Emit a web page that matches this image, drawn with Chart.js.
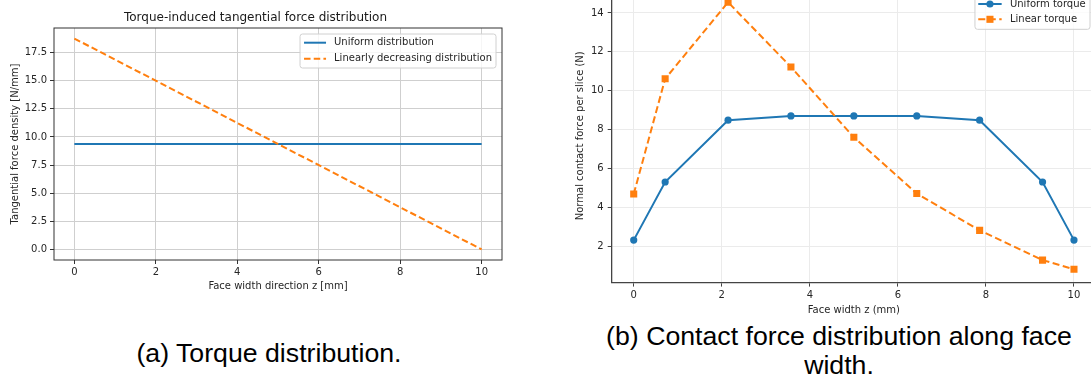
<!DOCTYPE html>
<html><head><meta charset="utf-8">
<script src="https://cdn.jsdelivr.net/npm/chart.js@4.4.1/dist/chart.umd.min.js"></script>
<style>
html,body{margin:0;padding:0;width:1091px;height:378px;overflow:hidden;background:#fff;position:relative;}
#ca{position:absolute;left:0;top:0;}
#cb{position:absolute;left:560px;top:-40px;}
.cap{position:absolute;font-family:"Liberation Sans",Arial,sans-serif;font-size:26.7px;line-height:27px;text-align:center;color:#000;white-space:nowrap;}
</style></head><body>
<canvas id="ca" width="556" height="300"></canvas>
<canvas id="cb" width="545" height="360"></canvas>
<div class="cap" style="left:0;top:340px;width:538px;">(a) Torque distribution.</div>
<div class="cap" style="left:600px;top:322px;width:478px;line-height:28.5px;">(b) Contact force distribution along face<br>width.</div>
<script>
// ---- Chart (a) data ----
const zA = [0, 10];
const uniformA = [9.375, 9.375];
const linearA = [18.75, 0];
const xTicksA = [0, 2, 4, 6, 8, 10];
const yTicksA = [0, 2.5, 5, 7.5, 10, 12.5, 15, 17.5];

// ---- Chart (b) data ----
const zB = [0, 0.714, 2.143, 3.571, 5, 6.429, 7.857, 9.286, 10];
const uniformB = [2.31, 5.30, 8.48, 8.70, 8.70, 8.70, 8.48, 5.30, 2.31];
const linearB = [4.68, 10.61, 14.55, 11.22, 7.60, 4.71, 2.81, 1.28, 0.81];
const xTicksB = [0, 2, 4, 6, 8, 10];
const yTicksB = [2, 4, 6, 8, 10, 12, 14];

const F = '"DejaVu Sans", sans-serif';
const BLUE = '#1f77b4', ORANGE = '#ff7f0e';
const pts = (xs, ys) => xs.map((x, i) => ({x: x, y: ys[i]}));

const boxLegend = {
  id: 'boxLegend',
  afterDraw(chart, args, o) {
    const ctx = chart.ctx, ca = chart.chartArea;
    const ds = chart.data.datasets;
    ctx.save();
    ctx.font = o.size + 'px ' + F;
    const tw = Math.max(...ds.map(d => ctx.measureText(d.label).width));
    const w = o.padL + o.lineLen + o.gap + tw + o.padR;
    const h = o.padT + o.rowH * (ds.length - 1) + o.padB;
    const x0 = ca.right - o.inset - w, y0 = ca.top + o.inset;
    const r = 2.5;
    ctx.beginPath();
    ctx.moveTo(x0 + r, y0);
    ctx.arcTo(x0 + w, y0, x0 + w, y0 + h, r);
    ctx.arcTo(x0 + w, y0 + h, x0, y0 + h, r);
    ctx.arcTo(x0, y0 + h, x0, y0, r);
    ctx.arcTo(x0, y0, x0 + w, y0, r);
    ctx.closePath();
    ctx.fillStyle = 'rgba(255,255,255,0.8)';
    ctx.fill();
    ctx.strokeStyle = '#d0d0d0';
    ctx.lineWidth = 1;
    ctx.stroke();
    ds.forEach((d, i) => {
      const y = y0 + o.padT + i * o.rowH;
      const lx = x0 + o.padL;
      ctx.strokeStyle = d.borderColor;
      ctx.lineWidth = d.borderWidth;
      ctx.setLineDash(d.borderDash || []);
      ctx.beginPath();
      ctx.moveTo(lx, y);
      ctx.lineTo(lx + o.lineLen, y);
      ctx.stroke();
      ctx.setLineDash([]);
      if (d.pointRadius > 0) {
        const cx = lx + o.lineLen / 2;
        ctx.fillStyle = d.borderColor;
        if (d.pointStyle === 'rect') {
          const s = d.pointRadius * Math.SQRT1_2;
          ctx.fillRect(cx - s, y - s, 2 * s, 2 * s);
        } else {
          ctx.beginPath();
          ctx.arc(cx, y, d.pointRadius, 0, Math.PI * 2);
          ctx.fill();
        }
      }
      ctx.fillStyle = '#262626';
      ctx.textBaseline = 'middle';
      ctx.textAlign = 'left';
      ctx.fillText(d.label, lx + o.lineLen + o.gap, y);
    });
    ctx.restore();
  }
};

const frame = {
  id: 'frame',
  afterDatasetsDraw(chart, args, o) {
    if (!o.show) return;
    const ctx = chart.ctx, ca = chart.chartArea;
    ctx.save();
    ctx.strokeStyle = o.color;
    ctx.lineWidth = o.width;
    ctx.strokeRect(ca.left, ca.top, ca.right - ca.left, ca.bottom - ca.top);
    ctx.restore();
  }
};

// ---------------- Chart (a) ----------------
new Chart(document.getElementById('ca'), {
  type: 'line',
  data: {
    datasets: [
      {label: 'Uniform distribution', data: pts(zA, uniformA), borderColor: BLUE, backgroundColor: BLUE,
       borderWidth: 2, pointRadius: 0, fill: false, tension: 0, order: 1},
      {label: 'Linearly decreasing distribution', data: pts(zA, linearA), borderColor: ORANGE, backgroundColor: ORANGE,
       borderWidth: 2, borderDash: [6.5, 3.2], pointRadius: 0, fill: false, tension: 0, order: 0}
    ]
  },
  plugins: [frame, boxLegend],
  options: {
    responsive: false, animation: false, devicePixelRatio: 1,
    layout: {padding: {left: 9, right: 54, top: 0, bottom: 7.5}},
    plugins: {
      legend: {display: false}, tooltip: {enabled: false},
      title: {display: true, text: 'Torque-induced tangential force distribution', color: '#1a1a1a',
              font: {family: F, size: 12, weight: 'normal'}, padding: {top: 11, bottom: 2.6}},
      frame: {show: true, color: '#333333', width: 1},
      boxLegend: {size: 10, inset: 6, padL: 4, lineLen: 22, gap: 8, padR: 4, padT: 8.7, rowH: 16, padB: 9.3}
    },
    scales: {
      x: {type: 'linear', min: -0.5, max: 10.5,
          afterBuildTicks: s => { s.ticks = xTicksA.map(v => ({value: v})); },
          afterFit: s => { s.height = 32.5; },
          ticks: {font: {family: F, size: 10}, color: '#262626', padding: 2, maxRotation: 0, autoSkip: false,
                  callback: v => String(v)},
          grid: {color: '#cfcfcf', lineWidth: 1, tickLength: 4, tickColor: '#333333'},
          border: {display: false},
          title: {display: true, text: 'Face width direction z [mm]', color: '#262626', font: {family: F, size: 10}, padding: 0}},
      y: {type: 'linear', min: -0.9375, max: 19.6875,
          afterBuildTicks: s => { s.ticks = yTicksA.map(v => ({value: v})); },
          afterFit: s => { s.width = 45; },
          ticks: {font: {family: F, size: 10}, color: '#262626', padding: 3, autoSkip: false,
                  callback: v => v.toFixed(1)},
          grid: {color: '#cfcfcf', lineWidth: 1, tickLength: 4, tickColor: '#333333'},
          border: {display: false},
          title: {display: true, text: 'Tangential force density [N/mm]', color: '#262626', font: {family: F, size: 10}, padding: 0}}
    }
  }
});

// ---------------- Chart (b) ----------------
new Chart(document.getElementById('cb'), {
  type: 'line',
  data: {
    datasets: [
      {label: 'Uniform torque', data: pts(zB, uniformB), borderColor: BLUE, backgroundColor: BLUE,
       borderWidth: 2, pointRadius: 3.6, pointStyle: 'circle', pointBorderWidth: 0,
       pointBackgroundColor: BLUE, fill: false, tension: 0, order: 1},
      {label: 'Linear torque', data: pts(zB, linearB), borderColor: ORANGE, backgroundColor: ORANGE,
       borderWidth: 2, borderDash: [7, 3.5], pointRadius: 5, pointStyle: 'rect', pointBorderWidth: 0,
       pointBackgroundColor: ORANGE, fill: false, tension: 0, order: 0}
    ]
  },
  plugins: [frame, boxLegend],
  options: {
    responsive: false, animation: false, devicePixelRatio: 1,
    layout: {padding: {left: 14.7, right: 9, top: 28.9, bottom: 4}},
    plugins: {
      legend: {display: false}, tooltip: {enabled: false}, title: {display: false},
      frame: {show: false},
      boxLegend: {size: 10, inset: 6, padL: 3.3, lineLen: 23.4, gap: 8.3, padR: 4.3, padT: 9.1, rowH: 15.3, padB: 10}
    },
    scales: {
      x: {type: 'linear', min: -0.5, max: 10.5,
          afterBuildTicks: s => { s.ticks = xTicksB.map(v => ({value: v})); },
          afterFit: s => { s.height = 33.4; },
          ticks: {font: {family: F, size: 10}, color: '#262626', padding: 2.4, maxRotation: 0, autoSkip: false,
                  callback: v => String(v)},
          grid: {color: '#ebebeb', lineWidth: 1, tickLength: 4, tickColor: '#444444'},
          border: {display: true, color: '#444444', width: 1.3},
          title: {display: true, text: 'Face width z (mm)', color: '#262626', font: {family: F, size: 10}, padding: 0}},
      y: {type: 'linear', min: 0.123, max: 15.237,
          afterBuildTicks: s => { s.ticks = yTicksB.map(v => ({value: v})); },
          afterFit: s => { s.width = 37; },
          ticks: {font: {family: F, size: 10}, color: '#262626', padding: 4, autoSkip: false,
                  callback: v => String(v)},
          grid: {color: '#ebebeb', lineWidth: 1, tickLength: 4, tickColor: '#444444'},
          border: {display: true, color: '#444444', width: 1.3},
          title: {display: true, text: 'Normal contact force per slice (N)', color: '#262626', font: {family: F, size: 10}, padding: 0}}
    }
  }
});
</script>
</body></html>
